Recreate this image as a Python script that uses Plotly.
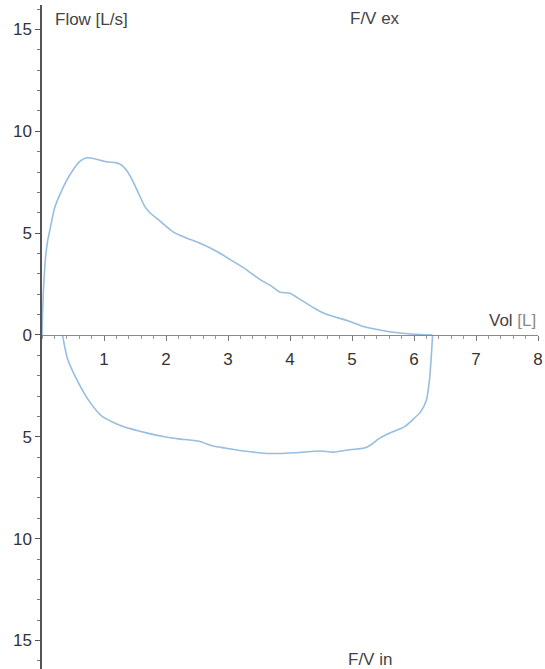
import plotly.graph_objects as go

# Expiratory limb (volume L, flow L/s)
ex_vol = [0.0, 0.01, 0.03, 0.06, 0.09, 0.13, 0.2, 0.29, 0.4, 0.5, 0.6, 0.72, 0.85, 1.04, 1.2, 1.28,
          1.36, 1.44, 1.52, 1.58, 1.66, 1.74, 1.9, 2.12, 2.3, 2.55, 2.82, 3.09, 3.3, 3.5, 3.7,
          3.84, 4.0, 4.16, 4.4, 4.6, 4.93, 5.2, 5.49, 5.7, 5.94, 6.1, 6.3]
ex_flow = [0.0, 1.2, 2.6, 3.9, 4.6, 5.2, 6.2, 6.9, 7.6, 8.1, 8.5, 8.7, 8.65, 8.5, 8.45, 8.35,
           8.1, 7.7, 7.2, 6.8, 6.3, 6.0, 5.6, 5.05, 4.8, 4.5, 4.1, 3.6, 3.2, 2.75, 2.4,
           2.1, 2.05, 1.75, 1.3, 1.0, 0.7, 0.4, 0.22, 0.12, 0.05, 0.02, 0.0]

# Inspiratory limb (drawn below the volume axis)
in_vol = [6.3, 6.28, 6.25, 6.2, 6.1, 6.0, 5.85, 5.7, 5.55, 5.43, 5.3, 5.2, 4.93, 4.7, 4.49,
          4.1, 3.7, 3.26, 2.95, 2.76, 2.53, 2.2, 1.98, 1.7, 1.31, 0.97, 0.75, 0.58, 0.41, 0.33]
in_flow = [0.0, -1.0, -2.2, -3.2, -3.8, -4.1, -4.5, -4.7, -4.9, -5.1, -5.4, -5.55, -5.65, -5.75, -5.7,
           -5.78, -5.82, -5.7, -5.55, -5.45, -5.22, -5.1, -5.0, -4.82, -4.5, -4.0, -3.2, -2.3, -1.15, 0.0]

y_tickvals = [-15, -10, -5, 0, 5, 10, 15]
y_ticktext = ["15", "10", "5", "0", "5", "10", "15"]
x_tickvals = [1, 2, 3, 4, 5, 6, 7, 8]
x_ticktext = ["1", "2", "3", "4", "5", "6", "7", "8"]

y_min, y_max = -16.4, 16.2
x_min, x_max = 0.0, 8.0

line_col = "#97bde0"
font_fam = "Liberation Sans, Arial, sans-serif"

fig = go.Figure()
for xs, ys in ((ex_vol, ex_flow), (in_vol, in_flow)):
    fig.add_trace(go.Scatter(x=xs, y=ys, mode="lines",
                             line=dict(color=line_col, width=1.6, shape="spline", smoothing=0.6),
                             showlegend=False, hoverinfo="skip"))

zero_pos = (0 - y_min) / (y_max - y_min)

fig.update_layout(
    width=545, height=669,
    margin=dict(l=42, r=7, t=5, b=0),
    paper_bgcolor="white", plot_bgcolor="white",
    font=dict(family=font_fam, size=17, color="#333333"),
    xaxis=dict(range=[x_min, x_max], anchor="free", position=zero_pos,
               showgrid=False, zeroline=False, showline=True, linecolor="#8a8a8a", linewidth=1,
               tickvals=x_tickvals, ticktext=x_ticktext, ticks="outside", ticklen=5,
               tickcolor="#777777", ticklabelstandoff=4, ticklabeloverflow="allow",
               minor=dict(dtick=0.2, ticks="outside", ticklen=3, tickcolor="#999999"),
               tickfont=dict(size=17, color="#333333")),
    yaxis=dict(range=[y_min, y_max], anchor="x",
               showgrid=False, zeroline=False, showline=True, linecolor="#555555", linewidth=1.5,
               tickvals=y_tickvals, ticktext=y_ticktext, ticks="outside", ticklen=5,
               tickcolor="#555555",
               minor=dict(dtick=1, ticks="outside", ticklen=3, tickcolor="#777777"),
               tickfont=dict(size=17, color="#333333")),
)

ann_font = dict(family=font_fam, size=17, color="#444444")
fig.add_annotation(x=0.18, y=15.47, xref="x", yref="y", text="Flow [L/s]", showarrow=False,
                   xanchor="left", yanchor="middle", font=ann_font)
fig.add_annotation(x=4.94, y=15.52, xref="x", yref="y", text="F/V ex", showarrow=False,
                   xanchor="left", yanchor="middle", font=ann_font)
fig.add_annotation(x=7.17, y=0.69, xref="x", yref="y",
                   text="Vol <span style='color:#8a8a8a'>[L]</span>", showarrow=False,
                   xanchor="left", yanchor="middle", font=ann_font)
fig.add_annotation(x=4.9, y=-15.95, xref="x", yref="y", text="F/V in", showarrow=False,
                   xanchor="left", yanchor="middle", font=ann_font)

fig.write_html("out.html", config={"displayModeBar": False},
               post_script="document.body.style.margin='0';document.body.style.padding='0';")
